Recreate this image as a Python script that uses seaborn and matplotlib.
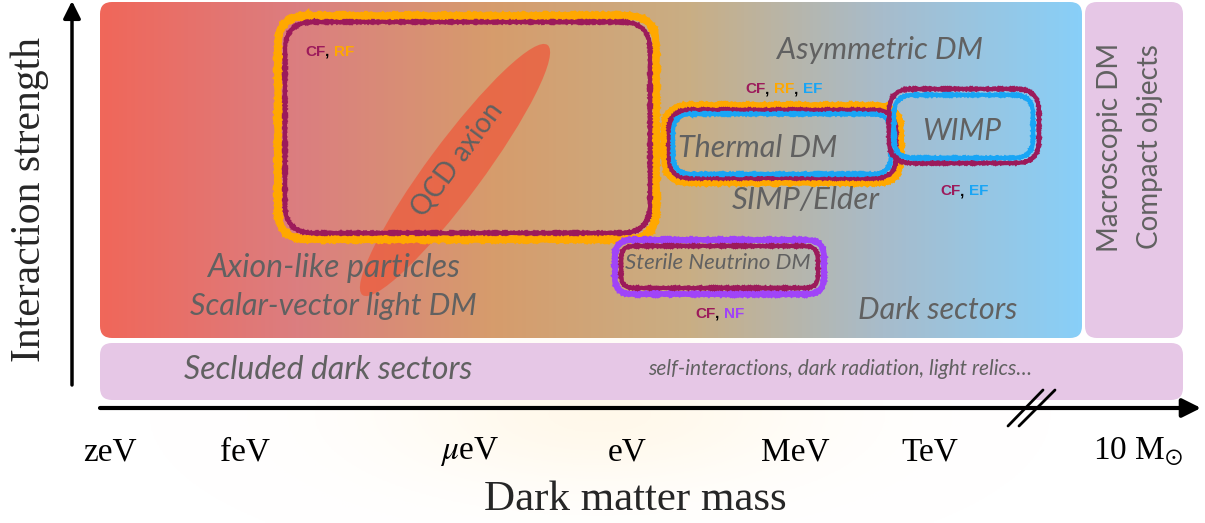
import numpy as np
import matplotlib
matplotlib.use("Agg")
import matplotlib.pyplot as plt
from matplotlib.patches import FancyBboxPatch, Ellipse
import seaborn as sns

# schematic mass axis (hand squeezed log scale, diagram units)
mass_labels = ["zeV", "feV", r"$\mu$eV", "eV", "MeV", "TeV", r"10 M$_{\odot}$"]
mass_pos = [110, 245, 470, 627, 795, 930, 1138]

# background bands
band_names = ["particle DM", "macroscopic", "secluded"]
band_x0 = [100, 1085, 100]
band_x1 = [1082, 1183, 1183]
band_y0 = [2, 2, 343]
band_y1 = [338, 338, 400]

grad_colors = ["#F0675A", "#DB7E80", "#D69C6C", "#C9AE84", "#A7BCCC", "#88CFF8"]

# experiment boxes around the models (CF/RF/EF/NF)
box_names = ["axion RF", "axion CF", "thermal RF", "thermal CF", "thermal EF",
             "wimp CF", "wimp EF", "sterile NF", "sterile CF"]
box_x0 = [278, 285, 665, 669, 673, 889, 894, 615, 621]
box_x1 = [656, 650, 900, 896, 891, 1039, 1033, 824, 818]
box_y0 = [16, 22, 106, 110, 114, 89, 95, 240, 246]
box_y1 = [239, 233, 182, 178, 174, 163, 158, 294, 288]
box_kind = ["RF", "CF", "RF", "CF", "EF", "CF", "EF", "NF", "CF"]

# model labels
model_names = ["Asymmetric DM", "Thermal DM", "WIMP", "SIMP/Elder",
               "Axion-like particles", "Scalar-vector light DM",
               "Sterile Neutrino DM", "Dark sectors", "Secluded dark sectors",
               "self-interactions, dark radiation, light relics…"]
model_x = [880, 758, 962, 806, 333, 333, 718, 938, 328, 840]
model_y = [50, 148, 131, 200, 268, 306, 263, 310, 370, 369]
model_size = [22, 22, 21.5, 22.5, 23, 22, 16, 22, 23, 15]

side_names = ["Macroscopic DM", "Compact objects"]
side_x = [1110, 1150]

# which frontiers probe which region
tag_parts = [["CF", "RF"], ["CF", "RF", "EF"], ["CF", "EF"], ["CF", "NF"]]
tag_x = [305, 745, 940, 695]
tag_y = [52, 89, 191, 314]

kind_colors = {"CF": "#9C1A5B", "RF": "#FFA800", "EF": "#19A5F5", "NF": "#A044F8"}
kind_lw = {"RF": 5, "CF": 3, "EF": 3, "NF": 4}
grey = "#616161"
lavender = "#E6C7E6"

sns.set_theme(style="white")
plt.rcParams["font.family"] = ["Liberation Serif", "DejaVu Serif"]
plt.rcParams["mathtext.fontset"] = "stix"

fig = plt.figure(figsize=(12.05, 5.23), dpi=100)
ax = fig.add_axes([0, 0, 1, 1])
ax.set_xlim(0, 1205)
ax.set_ylim(523, 0)
ax.axis("off")

# faint glow under the middle
gx, gy = np.meshgrid(np.linspace(0, 1205, 400), np.linspace(0, 523, 200))
glow = np.zeros((200, 400, 4))
glow[..., 0] = 1.0
glow[..., 1] = 0.94
glow[..., 2] = 0.80
glow[..., 3] = 0.4 * np.exp(-((gx - 600) / 210) ** 2 - ((gy - 415) / 75) ** 2)
ax.imshow(glow, extent=(0, 1205, 523, 0), aspect="auto", zorder=0)

cmap = sns.blend_palette(grad_colors, n_colors=256, as_cmap=True)
for name, x0, x1, y0, y1 in zip(band_names, band_x0, band_x1, band_y0, band_y1):
    patch = FancyBboxPatch((x0, y0), x1 - x0, y1 - y0,
                           boxstyle="round,pad=0,rounding_size=12",
                           fc=lavender if name != "particle DM" else "none",
                           ec="none", zorder=1)
    ax.add_patch(patch)
    if name == "particle DM":
        im = ax.imshow(np.linspace(0, 1, 256)[None, :], cmap=cmap,
                       extent=(x0, x1, y1, y0), aspect="auto", zorder=1)
        im.set_clip_path(patch)

# QCD axion band
ax.add_patch(Ellipse((455, 170), 311, 55, angle=-53.5, fc="#EC5E40",
                     ec="none", alpha=0.8, zorder=2))
ax.text(457, 160, "QCD axion", rotation=53.5, ha="center", va="center",
        fontsize=20, color=grey, family="Lato", zorder=3)

# chalky experiment boxes
for x0, x1, y0, y1, k in zip(box_x0, box_x1, box_y0, box_y1, box_kind):
    r = min(28, (y1 - y0) * 0.3)
    p = FancyBboxPatch((x0, y0), x1 - x0, y1 - y0,
                       boxstyle=f"round,pad=0,rounding_size={r}",
                       fc="none", ec=kind_colors[k], lw=kind_lw[k], zorder=4)
    p.set_sketch_params(scale=0.6, length=2, randomness=1.5)
    ax.add_patch(p)

for name, x, y, s in zip(model_names, model_x, model_y, model_size):
    ax.text(x, y, name, ha="center", va="center", fontsize=s, color=grey,
            family="Lato", style="italic", zorder=5)

for name, x in zip(side_names, side_x):
    ax.text(x, 147, name, rotation=90, ha="center", va="center", fontsize=20,
            color=grey, family="Lato", zorder=5)

# coloured tags like "CF, RF"
for parts, x, y in zip(tag_parts, tag_x, tag_y):
    prev = ax.text(x, y, parts[0], ha="left", va="center", fontsize=11,
                   fontweight="bold", color=kind_colors[parts[0]],
                   family="Liberation Sans", zorder=6)
    for p in parts[1:]:
        prev = ax.annotate(", ", xy=(1, 0), xycoords=prev, ha="left", va="bottom",
                           fontsize=11, fontweight="bold", color="black",
                           family="Liberation Sans", zorder=6)
        prev = ax.annotate(p, xy=(1, 0), xycoords=prev, ha="left", va="bottom",
                           fontsize=11, fontweight="bold", color=kind_colors[p],
                           family="Liberation Sans", zorder=6)

# axes arrows
ax.annotate("", xy=(1201, 408), xytext=(100, 408), zorder=6,
            arrowprops=dict(arrowstyle="-|>", lw=3, color="black",
                            mutation_scale=28, shrinkA=0, shrinkB=0))
ax.annotate("", xy=(72, 1), xytext=(72, 385), zorder=6,
            arrowprops=dict(arrowstyle="-|>", lw=2.5, color="black",
                            mutation_scale=26, shrinkA=0, shrinkB=0))
ax.plot([1008, 1043], [426, 390], color="black", lw=2, zorder=7)
ax.plot([1019, 1055], [426, 390], color="black", lw=2, zorder=7)

for lab, x in zip(mass_labels, mass_pos):
    ax.text(x, 452, lab, ha="center", va="center", fontsize=24, color="black")

ax.text(635, 500, "Dark matter mass", ha="center", va="center", fontsize=31)
ax.text(30, 200, "Interaction strength", ha="center", va="center",
        rotation=90, fontsize=30)

fig.savefig("out.png", dpi=100)
